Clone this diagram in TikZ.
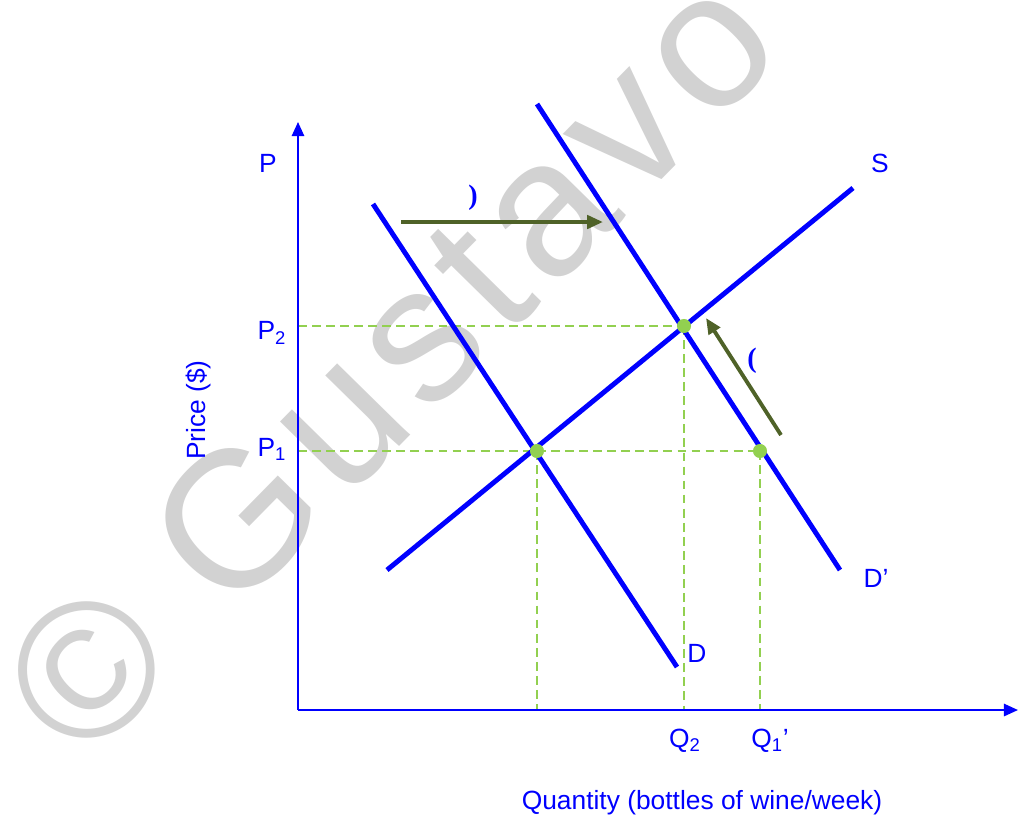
\documentclass[tikz,border=0pt]{standalone}
\usepackage{fontspec}
\setmainfont{Liberation Sans}
\newfontfamily\serifbf{Liberation Serif}
\newfontfamily\wmfont[LetterSpace=6.5]{Liberation Sans}
\usetikzlibrary{arrows.meta}
\definecolor{cblue}{RGB}{0,0,255}
\definecolor{lgreen}{RGB}{146,208,80}
\definecolor{darkolive}{RGB}{79,98,40}
\definecolor{wmgray}{RGB}{210,210,210}
\begin{document}
\begin{tikzpicture}[x=0.02cm,y=-0.02cm,
 curve/.style={cblue,line width=2.8pt},
 axis/.style={cblue,line width=1.1pt,-{Triangle[length=8pt,width=7pt]}},
 guide/.style={lgreen,line width=1.1pt,dash pattern=on 5pt off 3pt},
 shiftarrow/.style={darkolive,line width=2.2pt,-{Triangle[length=9pt,width=7.5pt]}},
 eq/.style={circle,fill=lgreen,inner sep=0pt,minimum size=8pt},
 lbl/.style={cblue,font=\fontsize{15}{18}\selectfont,inner sep=0pt},
 paren/.style={cblue,font=\serifbf\bfseries\fontsize{16}{18}\selectfont,inner sep=0pt},
]
\useasboundingbox (0,0) rectangle (1020,816);
% watermark
\node[wmgray,anchor=base west,inner sep=0pt,rotate=45.5,font=\wmfont\fontsize{110}{120}\selectfont] (wm) at (84,768) {© Gustavo};
% axes
\coordinate (O) at (298,710);
\coordinate (ytop) at (298,122);
\coordinate (xend) at (1018,710);
% curve ends
\coordinate (D1) at (373,204);
\coordinate (D2) at (677,667);
\coordinate (Dp1) at (537,104);
\coordinate (Dp2) at (840,570);
\coordinate (S1) at (387,570);
\coordinate (S2) at (853,188);
% equilibria
\coordinate (E1c) at (537,451);
\coordinate (E2c) at (684,326);
\coordinate (E3c) at (760,451);
\coordinate (P1a) at (298,451);
\coordinate (P2a) at (298,326);
\coordinate (Q1a) at (537,710);
\coordinate (Q2a) at (684,710);
\coordinate (Q3a) at (760,710);
% guides
\draw[guide] (P2a) -- (E2c);
\draw[guide] (P1a) -- (E3c);
\draw[guide] (E1c) -- (Q1a);
\draw[guide] (E2c) -- (Q2a);
\draw[guide] (E3c) -- (Q3a);
% axes
\draw[axis] (O) -- (ytop);
\draw[axis] (O) -- (xend);
% curves
\draw[curve] (D1) -- (D2);
\draw[curve] (Dp1) -- (Dp2);
\draw[curve] (S1) -- (S2);
% dots
\node[eq] (E1) at (E1c) {};
\node[eq] (E2) at (E2c) {};
\node[eq] (E3) at (E3c) {};
% shift arrows
\coordinate (A1s) at (401,222);
\coordinate (A1e) at (603,222);
\coordinate (A2s) at (781,435);
\coordinate (A2e) at (706,318);
\draw[shiftarrow] (A1s) -- (A1e);
\draw[shiftarrow] (A2s) -- (A2e);
\node[paren] (pr1) at (473,198) {)};
\node[paren] (pr2) at (752,361) {(};
% labels
\node[lbl] (Plab) at (268,163) {P};
\node[lbl] (P2lab) at (272,333) {P\textsubscript{2}};
\node[lbl] (P1lab) at (272,449) {P\textsubscript{1}};
\node[lbl,rotate=90] (Price) at (198,410) {Price (\$)};
\node[lbl] (Slab) at (880,163) {S};
\node[lbl] (Dplab) at (876,578) {D’};
\node[lbl] (Dlab) at (697,653) {D};
\node[lbl] (Q2lab) at (685,741) {Q\textsubscript{2}};
\node[lbl] (Q1lab) at (770,741) {Q\textsubscript{1}’};
\node[lbl] (Qty) at (702,803) {Quantity (bottles of wine/week)};
\end{tikzpicture}
\end{document}
